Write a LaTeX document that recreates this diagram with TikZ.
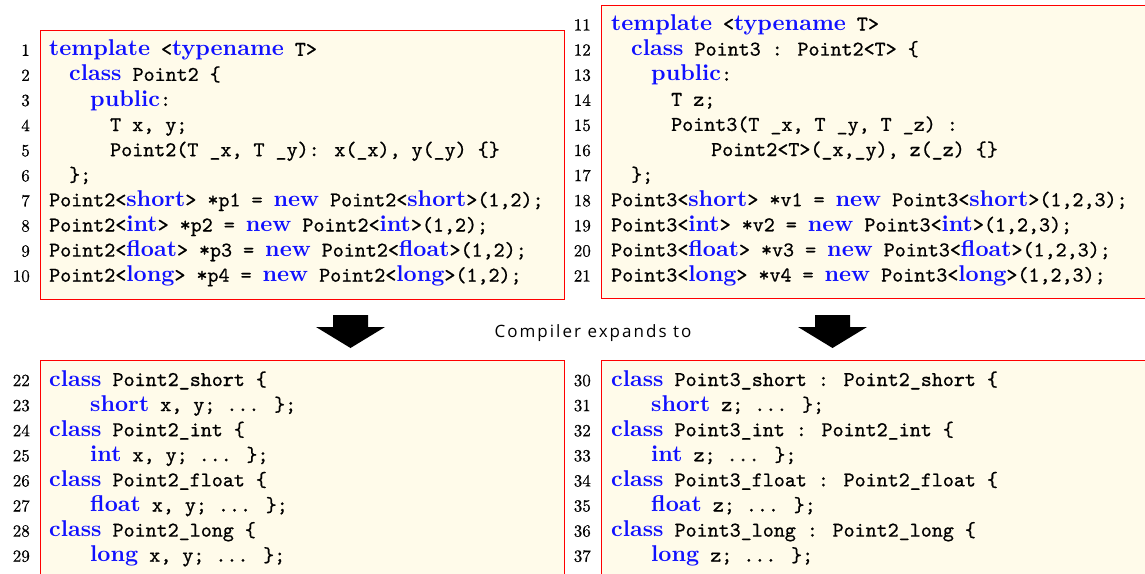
\documentclass[tikz,border=0pt]{standalone}
\usepackage{fontspec}
\newfontfamily\kwfont{lmroman10-bold.otf}
\newfontfamily\codefont[FakeBold=0.8]{lmmono10-regular.otf}
\newfontfamily\numfont[FakeBold=0.6]{lmroman10-regular.otf}
\newfontfamily\capfont[LetterSpace=12]{Open Sans}
\definecolor{codebg}{HTML}{FFFBEA}
\definecolor{kwblue}{HTML}{1010FF}
\newcommand\kw[1]{{\color{kwblue}\fontsize{22.8}{26}\kwfont #1}}
% one listing line: number, x of number, x of text, baseline, text
\newcommand\cl[5]{%
  \node[codetext] (c#1) at (#3,#4) {#5};
  \node[lineno] (n#1) at (#2,#4) {#1};}
\tikzset{
  codebox/.style={draw=red, line width=1.2pt, fill=codebg, inner sep=0pt, anchor=north west},
  codetext/.style={anchor=base west, inner sep=0pt, font=\fontsize{21}{25}\codefont},
  lineno/.style={anchor=base east, inner sep=0pt, font=\fontsize{17}{20}\numfont},
  bigarrow/.pic={\fill[black] (-17.5,0) -- (17.5,0) -- (17.5,12) -- (34.5,12)
                 -- (0,33) -- (-34.5,12) -- (-17.5,12) -- cycle;}
}
\begin{document}
\begin{tikzpicture}[x=1pt,y=-1pt]
\useasboundingbox (0,0) rectangle (1145,573);

% the four listing frames
\node[codebox, minimum width=524pt, minimum height=269pt] (box1) at (40,30) {};
\node[codebox, minimum width=560pt, minimum height=293pt] (box2) at (601,5) {};
\node[codebox, minimum width=524pt, minimum height=230pt] (box3) at (40,360) {};
\node[codebox, minimum width=560pt, minimum height=230pt] (box4) at (601,360) {};

% template Point2
\cl{1}{30}{49}{55.8}{\kw{template} <\kw{typename} T>}
\cl{2}{30}{69}{80.9}{\kw{class} Point2 \{}
\cl{3}{30}{90}{106.0}{\kw{public}:}
\cl{4}{30}{110}{131.1}{T x, y;}
\cl{5}{30}{110}{156.2}{Point2(T \_x, T \_y): x(\_x), y(\_y) \{\}}
\cl{6}{30}{69}{181.3}{\};}
\cl{7}{30}{49}{206.4}{Point2<\kw{short}> *p1 = \kw{new} Point2<\kw{short}>(1,2);}
\cl{8}{30}{49}{231.5}{Point2<\kw{int}> *p2 = \kw{new} Point2<\kw{int}>(1,2);}
\cl{9}{30}{49}{256.6}{Point2<\kw{float}> *p3 = \kw{new} Point2<\kw{float}>(1,2);}
\cl{10}{30}{49}{281.7}{Point2<\kw{long}> *p4 = \kw{new} Point2<\kw{long}>(1,2);}

% template Point3
\cl{11}{591}{611}{30.5}{\kw{template} <\kw{typename} T>}
\cl{12}{591}{631}{55.6}{\kw{class} Point3 : Point2<T> \{}
\cl{13}{591}{651}{80.7}{\kw{public}:}
\cl{14}{591}{671}{105.8}{T z;}
\cl{15}{591}{671}{130.9}{Point3(T \_x, T \_y, T \_z) :}
\cl{16}{591}{711}{156.0}{Point2<T>(\_x,\_y), z(\_z) \{\}}
\cl{17}{591}{631}{181.1}{\};}
\cl{18}{591}{611}{206.2}{Point3<\kw{short}> *v1 = \kw{new} Point3<\kw{short}>(1,2,3);}
\cl{19}{591}{611}{231.3}{Point3<\kw{int}> *v2 = \kw{new} Point3<\kw{int}>(1,2,3);}
\cl{20}{591}{611}{256.4}{Point3<\kw{float}> *v3 = \kw{new} Point3<\kw{float}>(1,2,3);}
\cl{21}{591}{611}{281.5}{Point3<\kw{long}> *v4 = \kw{new} Point3<\kw{long}>(1,2,3);}

% expanded Point2 classes
\cl{22}{30}{49}{386.0}{\kw{class} Point2\_short \{}
\cl{23}{30}{90}{411.1}{\kw{short} x, y; ... \};}
\cl{24}{30}{49}{436.2}{\kw{class} Point2\_int \{}
\cl{25}{30}{90}{461.3}{\kw{int} x, y; ... \};}
\cl{26}{30}{49}{486.4}{\kw{class} Point2\_float \{}
\cl{27}{30}{90}{511.5}{\kw{float} x, y; ... \};}
\cl{28}{30}{49}{536.6}{\kw{class} Point2\_long \{}
\cl{29}{30}{90}{561.7}{\kw{long} x, y; ... \};}

% expanded Point3 classes
\cl{30}{591}{611}{386.0}{\kw{class} Point3\_short : Point2\_short \{}
\cl{31}{591}{651}{411.1}{\kw{short} z; ... \};}
\cl{32}{591}{611}{436.2}{\kw{class} Point3\_int : Point2\_int \{}
\cl{33}{591}{651}{461.3}{\kw{int} z; ... \};}
\cl{34}{591}{611}{486.4}{\kw{class} Point3\_float : Point2\_float \{}
\cl{35}{591}{651}{511.5}{\kw{float} z; ... \};}
\cl{36}{591}{611}{536.6}{\kw{class} Point3\_long : Point2\_long \{}
\cl{37}{591}{651}{561.7}{\kw{long} z; ... \};}

% expansion arrows and caption
\pic at (350.5,315) {bigarrow};
\pic at (832.5,315) {bigarrow};
\node[anchor=base, inner sep=0pt, font=\fontsize{17}{20}\capfont] (cap) at (593,337) {Compiler expands to};
\end{tikzpicture}
\end{document}
